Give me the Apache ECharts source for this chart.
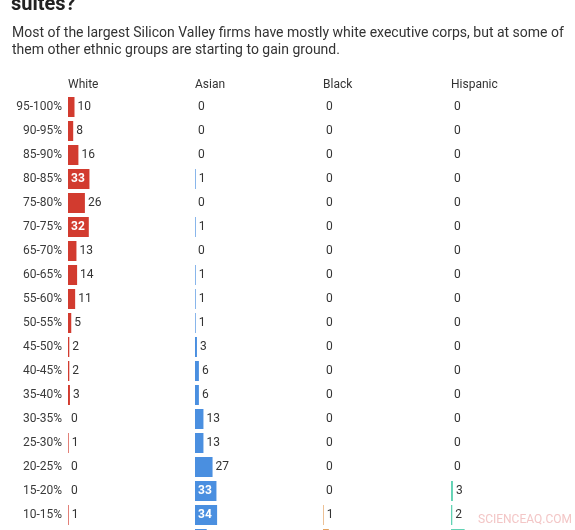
<!DOCTYPE html>
<html lang="en">
<head>
<meta charset="UTF-8">
<title>Executive suites by ethnicity</title>
<style>
    * { margin: 0; padding: 0; }
    body { background: #fff; overflow: hidden; }
    /* taller than the window: the last row is cut off like the source crop */
    #chart { width: 575px; height: 560px; }
</style>
<script src="https://cdn.jsdelivr.net/npm/echarts@6/dist/echarts.min.js"></script>
</head>
<body>
<div id="chart"></div>
<script>
// share of executives, bucketed; count of firms in each bucket
var rows = ['95-100%', '90-95%', '85-90%', '80-85%', '75-80%', '70-75%', '65-70%', '60-65%',
    '55-60%', '50-55%', '45-50%', '40-45%', '35-40%', '30-35%', '25-30%', '20-25%',
    '15-20%', '10-15%', '5-10%'];
var groups = ['White', 'Asian', 'Black', 'Hispanic'];
var white    = [10, 8, 16, 33, 26, 32, 13, 14, 11, 5, 2, 2, 3, 0, 1, 0, 0, 1, 0];
var asian    = [0, 0, 0, 1, 0, 1, 0, 1, 1, 1, 3, 6, 6, 13, 13, 27, 33, 34, 18];
var black    = [0, 0, 0, 0, 0, 0, 0, 0, 0, 0, 0, 0, 0, 0, 0, 0, 0, 1, 9];
var hispanic = [0, 0, 0, 0, 0, 0, 0, 0, 0, 0, 0, 0, 0, 0, 0, 0, 3, 2, 21];

var values = [white, asian, black, hispanic];
var colors = ['#d23b2f', '#4a8fe0', '#e3a05e', '#62d2b4'];
var lefts = [68, 195, 323, 451]; // column starts
var font = 'Roboto, "Noto Sans", sans-serif';

var chart = echarts.init(document.getElementById('chart'));

var grids = [], xAxes = [], yAxes = [], series = [], titles = [];
groups.forEach(function (g, i) {
    grids.push({ left: lefts[i], top: 95, width: 65, height: 24 * rows.length, containLabel: false });
    xAxes.push({ type: 'value', gridIndex: i, min: 0, max: 100, show: false });
    yAxes.push({
        type: 'category', gridIndex: i, data: rows, inverse: true,
        axisLine: { show: false }, axisTick: { show: false },
        axisLabel: { show: i === 0, margin: 6, color: '#3a3a3a', fontSize: 12, fontFamily: font }
    });
    titles.push({
        text: g, left: lefts[i], top: 79, padding: 0,
        textStyle: { color: '#333', fontSize: 12, fontWeight: 'normal', fontFamily: font }
    });
    series.push({
        type: 'bar', xAxisIndex: i, yAxisIndex: i,
        barWidth: 20, itemStyle: { color: colors[i] },
        label: { show: true, position: 'right', distance: 3, color: '#333', fontSize: 12, fontFamily: font },
        data: values[i].map(function (v) {
            if (v >= 30) { // big bars carry their label inside
                return { value: v, label: { position: 'insideLeft', distance: 3, color: '#fff', fontWeight: 'bold' } };
            }
            return v;
        }),
        animation: false
    });
});

chart.setOption({
    title: titles,
    grid: grids,
    xAxis: xAxes,
    yAxis: yAxes,
    series: series,
    graphic: [
        { // main title, cut off at the top of the crop
            type: 'text', left: 11, top: -5,
            style: { text: 'suites?', fill: '#222', font: 'bold 20px ' + font }
        },
        {
            type: 'text', left: 12, top: 25,
            style: {
                text: 'Most of the largest Silicon Valley firms have mostly white executive corps, but at some of\nthem other ethnic groups are starting to gain ground.',
                fill: '#333', font: '14px ' + font, lineHeight: 17
            }
        },
        {
            type: 'text', left: 478, top: 514,
            style: { text: 'SCIENCEAQ.COM', fill: '#f3c6c6', font: '12px ' + font }
        }
    ]
});
</script>
</body>
</html>
